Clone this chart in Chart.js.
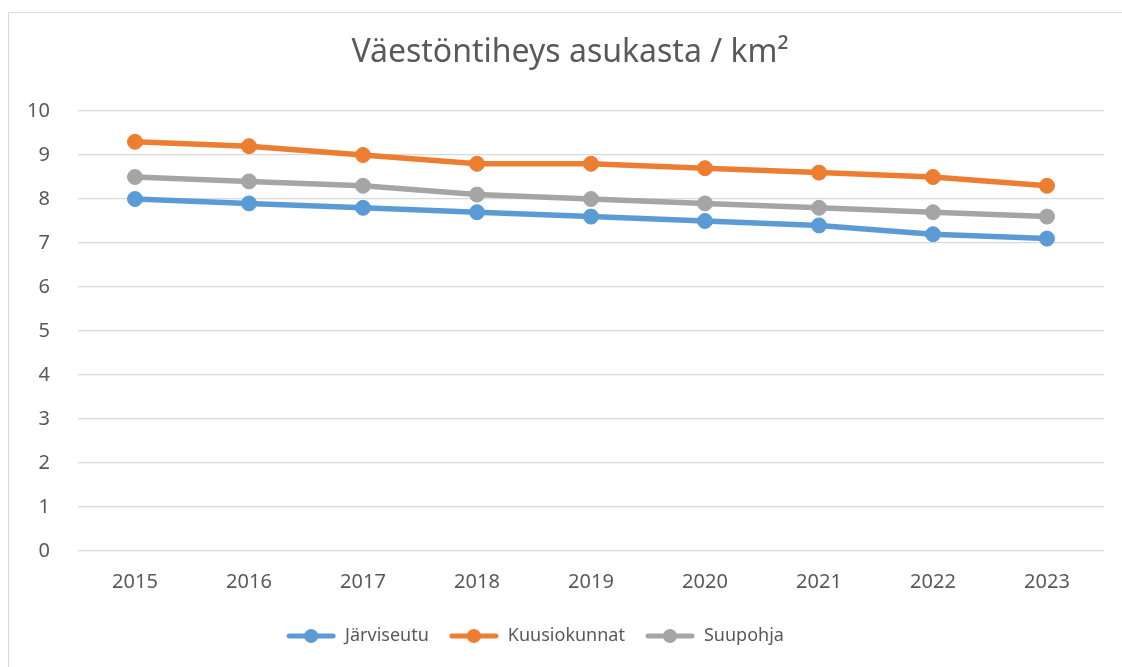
<!DOCTYPE html>
<html><head><meta charset="utf-8">
<script src="https://cdn.jsdelivr.net/npm/chart.js@4"></script>
<style>
html,body{margin:0;padding:0;background:#fff;overflow:hidden;width:1122px;height:667px}
#frame{position:absolute;left:8px;top:12px;width:1200px;height:800px;border:1px solid #d9d9d9;box-sizing:border-box}
#wrap{position:absolute;left:0;top:0;width:1122px;height:667px}
</style></head><body>
<div id="frame"></div>
<div id="wrap"><canvas id="c" width="1122" height="667"></canvas></div>
<script>
const categories = ['2015','2016','2017','2018','2019','2020','2021','2022','2023'];
const jarviseutu = [8.0, 7.9, 7.8, 7.7, 7.6, 7.5, 7.4, 7.2, 7.1];
const kuusiokunnat = [9.3, 9.2, 9.0, 8.8, 8.8, 8.7, 8.6, 8.5, 8.3];
const suupohja = [8.5, 8.4, 8.3, 8.1, 8.0, 7.9, 7.8, 7.7, 7.6];
const seriesNames = ['Järviseutu','Kuusiokunnat','Suupohja'];
const titleText = 'Väestöntiheys asukasta / km²';

const colors = ['#5B9BD5','#ED7D31','#A5A5A5'];
const FONT = '"Noto Sans", "Open Sans", sans-serif';

function legendIcon(color){
  const c = document.createElement('canvas');
  c.width = 50; c.height = 16;
  const g = c.getContext('2d');
  g.strokeStyle = color; g.lineWidth = 5; g.lineCap = 'round';
  g.beginPath(); g.moveTo(3,8); g.lineTo(47,8); g.stroke();
  g.fillStyle = color;
  g.beginPath(); g.arc(25,8,7,0,Math.PI*2); g.fill();
  return c;
}

const data = [jarviseutu, kuusiokunnat, suupohja];
const datasets = data.map((d,i)=>({
  label: seriesNames[i],
  data: d,
  borderColor: colors[i],
  backgroundColor: colors[i],
  borderWidth: 5.5,
  pointRadius: 7.5,
  pointBorderWidth: 1,
  pointBackgroundColor: colors[i],
  pointBorderColor: colors[i],
  pointStyle: 'circle',
  tension: 0,
  fill: false
}));
const icons = colors.map(legendIcon);

const shiftBoxes = {
  id: 'shiftBoxes',
  afterLayout(chart){
    if (chart.titleBlock) { chart.titleBlock.left = 36; chart.titleBlock.right = 1104; }
    if (chart.legend) { chart.legend.left = 8; chart.legend.right = 1062; }
  }
};

new Chart(document.getElementById('c'), {
  type: 'line',
  data: { labels: categories, datasets },
  plugins: [shiftBoxes],
  options: {
    responsive: false,
    animation: false,
    devicePixelRatio: 1,
    layout: { padding: { left: 8, right: 18, top: 12, bottom: 12 } },
    plugins: {
      title: {
        display: true, text: titleText, color: '#595959',
        font: { family: FONT, size: 32, weight: 'normal', lineHeight: 1.2 },
        padding: { top: 22, bottom: 38.6 }
      },
      legend: {
        position: 'bottom',
        labels: {
          color: '#595959',
          font: { family: FONT, size: 18 },
          usePointStyle: true,
          pointStyleWidth: 50,
          boxHeight: 16,
          padding: 20,
          generateLabels(chart){
            return chart.data.datasets.map((ds,i)=>({
              text: ds.label, fillStyle: colors[i], strokeStyle: colors[i],
              pointStyle: icons[i], datasetIndex: i, hidden: false, lineWidth: 0,
              fontColor: '#595959'
            }));
          }
        }
      },
      tooltip: { enabled: false }
    },
    scales: {
      x: {
        offset: true,
        grid: { display: false, drawTicks: false },
        border: { display: false },
        ticks: { color: '#595959', font: { family: FONT, size: 20 }, padding: 19, maxRotation: 0 },
        afterFit(s){ s.height = 56; }
      },
      y: {
        min: 0, max: 10,
        grid: { color: '#d9d9d9', lineWidth: 1.3, drawTicks: false },
        border: { display: false },
        ticks: { stepSize: 1, color: '#595959', font: { family: FONT, size: 20 }, padding: 28 },
        afterFit(s){ s.width = 70; }
      }
    }
  }
});
</script>
</body></html>
